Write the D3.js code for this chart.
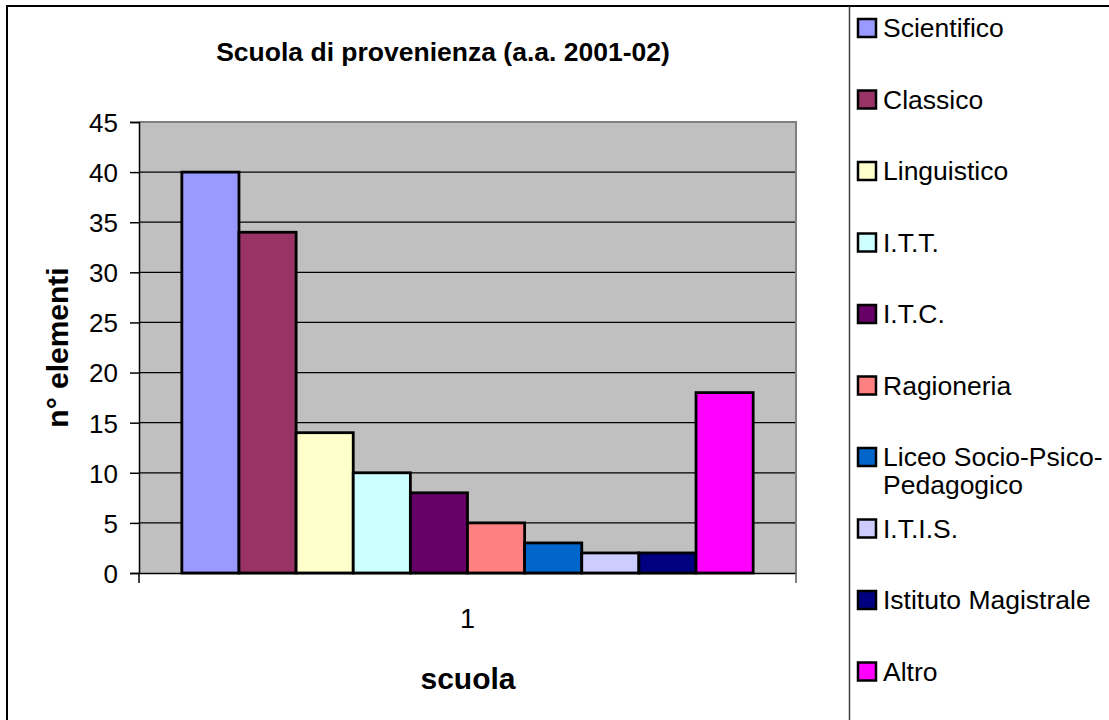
<!doctype html>
<html lang="it">
  <head>
    <meta charset="utf-8"/>
    <title>Scuola di provenienza</title>
    <script src="https://d3js.org/d3.v7.min.js"></script>
    <style>
      body { margin: 0; background: #fff; }
      text { font-family: "Liberation Sans", Arial, sans-serif; fill: #000; }
    </style>
  </head>
  <body>
    <div id="chart"></div>
    <script>
      //Data
      var categories = ["1"];
      var schools = ["Scientifico", "Classico", "Linguistico", "I.T.T.", "I.T.C.",
                     "Ragioneria", "Liceo Socio-Psico-Pedagogico", "I.T.I.S.",
                     "Istituto Magistrale", "Altro"];
      var values = [40, 34, 14, 10, 8, 5, 3, 2, 2, 18];
      var colors = ["#9999FF", "#993366", "#FFFFCC", "#CCFFFF", "#660066",
                    "#FF8080", "#0066CC", "#CCCCFF", "#000080", "#FF00FF"];
      var legendLines = [["Scientifico"], ["Classico"], ["Linguistico"], ["I.T.T."], ["I.T.C."],
                         ["Ragioneria"], ["Liceo Socio-Psico-", "Pedagogico"], ["I.T.I.S."],
                         ["Istituto Magistrale"], ["Altro"]];
      var yTicks = [0, 5, 10, 15, 20, 25, 30, 35, 40, 45];

      var w = 1109;
      var h = 720;
      var plotL = 139, plotR = 796, plotT = 122, plotB = 573;

      var svg = d3.select("#chart")
                  .append("svg")
                  .attr("width", w)
                  .attr("height", h);

      //Outer frame (runs off the page on the right and bottom)
      svg.append("rect")
         .attr("x", 7).attr("y", 6)
         .attr("width", 1200).attr("height", 800)
         .attr("fill", "#fff")
         .attr("stroke", "#000")
         .attr("stroke-width", 2);

      //Scales
      var x0 = d3.scaleBand()
                 .domain(categories)
                 .range([plotL, plotR])
                 .paddingInner(0);

      var x1 = d3.scaleBand()
                 .domain(schools)
                 .range([0, x0.bandwidth()])
                 .paddingInner(0)
                 .paddingOuter(0.75);

      var yScale = d3.scaleLinear()
                     .domain([0, 45])
                     .range([plotB, plotT]);

      //Plot area
      svg.append("rect")
         .attr("x", plotL).attr("y", plotT)
         .attr("width", plotR - plotL).attr("height", plotB - plotT)
         .attr("fill", "#C0C0C0");

      //Gridlines
      svg.selectAll("line.grid")
         .data(yTicks.filter(function(d) { return d > 0 && d < 45; }))
         .enter()
         .append("line")
         .attr("class", "grid")
         .attr("x1", plotL).attr("x2", plotR)
         .attr("y1", function(d) { return yScale(d); })
         .attr("y2", function(d) { return yScale(d); })
         .attr("stroke", "#000")
         .attr("stroke-width", 1.2);

      //Plot border top / right
      svg.append("path")
         .attr("d", "M" + plotL + "," + plotT + "H" + plotR + "V" + (plotB + 10))
         .attr("fill", "none")
         .attr("stroke", "#808080")
         .attr("stroke-width", 2);

      //Bars
      svg.append("g")
         .selectAll("rect")
         .data(schools)
         .enter()
         .append("rect")
         .attr("x", function(d) { return x0("1") + x1(d); })
         .attr("y", function(d, i) { return yScale(values[i]); })
         .attr("width", x1.bandwidth())
         .attr("height", function(d, i) { return plotB - yScale(values[i]); })
         .attr("fill", function(d, i) { return colors[i]; })
         .attr("stroke", "#000")
         .attr("stroke-width", 2.8);

      //Y axis
      var yAxis = d3.axisLeft(yScale)
                    .tickValues(yTicks)
                    .tickSize(9)
                    .tickPadding(12);

      var gy = svg.append("g")
                  .attr("transform", "translate(" + plotL + ",0)")
                  .call(yAxis);
      gy.select(".domain").attr("stroke", "#000").attr("stroke-width", 1.5);
      gy.selectAll(".tick line").attr("stroke", "#000").attr("stroke-width", 1.5);
      gy.selectAll(".tick text")
        .attr("font-family", "Liberation Sans, Arial, sans-serif")
        .attr("font-size", "26px")
        .attr("fill", "#000")
        .attr("dy", "0.36em");

      //X axis
      var xAxis = d3.axisBottom(x0)
                    .tickSize(0)
                    .tickPadding(36);

      var gx = svg.append("g")
                  .attr("transform", "translate(0," + plotB + ")")
                  .call(xAxis);
      gx.select(".domain").attr("stroke", "#000").attr("stroke-width", 1.5);
      gx.selectAll(".tick text")
        .attr("font-family", "Liberation Sans, Arial, sans-serif")
        .attr("font-size", "27px")
        .attr("fill", "#000");
      //category boundary ticks
      gx.selectAll("line.edge")
        .data([plotL, plotR])
        .enter()
        .append("line")
        .attr("x1", function(d) { return d; })
        .attr("x2", function(d) { return d; })
        .attr("y1", 0).attr("y2", 10)
        .attr("stroke", function(d, i) { return i ? "#808080" : "#000"; })
        .attr("stroke-width", 1.5);

      //Title
      svg.append("text")
         .attr("x", 443)
         .attr("y", 61)
         .attr("text-anchor", "middle")
         .attr("font-size", "26.5px")
         .attr("font-weight", "bold")
         .text("Scuola di provenienza (a.a. 2001-02)");

      //Axis titles
      svg.append("text")
         .attr("transform", "translate(68," + ((plotT + plotB) / 2) + ") rotate(-90)")
         .attr("text-anchor", "middle")
         .attr("font-size", "30px")
         .attr("font-weight", "bold")
         .text("n° elementi");

      svg.append("text")
         .attr("x", 468)
         .attr("y", 689)
         .attr("text-anchor", "middle")
         .attr("font-size", "30px")
         .attr("font-weight", "bold")
         .text("scuola");

      //Legend
      svg.append("line")
         .attr("x1", 849.5).attr("x2", 849.5)
         .attr("y1", 6).attr("y2", h)
         .attr("stroke", "#404040")
         .attr("stroke-width", 1.5);

      var rowY = d3.scalePoint()
                   .domain(schools)
                   .range([28, 671.5]);

      var legend = svg.append("g")
                      .selectAll("g")
                      .data(schools)
                      .enter()
                      .append("g")
                      .attr("transform", function(d) { return "translate(858," + rowY(d) + ")"; });

      legend.append("rect")
            .attr("x", 0).attr("y", -9)
            .attr("width", 18).attr("height", 18)
            .attr("fill", function(d, i) { return colors[i]; })
            .attr("stroke", "#000")
            .attr("stroke-width", 2.5);

      legend.append("text")
            .attr("x", 25)
            .attr("y", 9.3)
            .attr("font-size", "26.5px")
            .selectAll("tspan")
            .data(function(d, i) { return legendLines[i]; })
            .enter()
            .append("tspan")
            .attr("x", 25)
            .attr("dy", function(d, i) { return i ? 28 : 0; })
            .text(function(d) { return d; });
    </script>
  </body>
</html>
